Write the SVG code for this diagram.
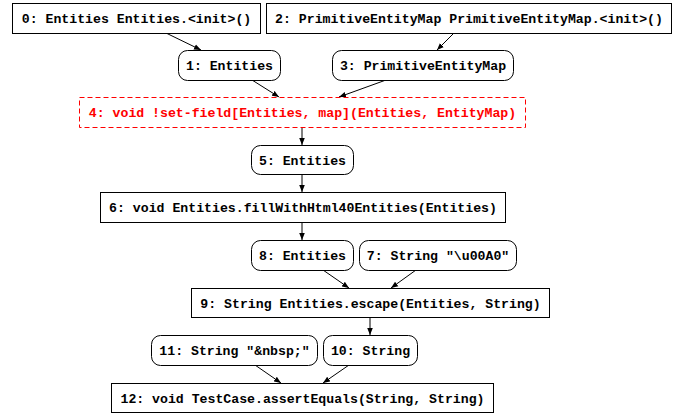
<svg xmlns="http://www.w3.org/2000/svg" width="683" height="417" viewBox="0 0 683 417">
<defs>
<marker id="ah" viewBox="0 0 10 10" refX="10" refY="5" markerWidth="7" markerHeight="7" markerUnits="userSpaceOnUse" orient="auto">
<path d="M0,1 L10,5 L0,9 z" fill="#000"/>
</marker>
</defs>
<style>
rect{fill:#fff;stroke:#000;stroke-width:1}
.red rect{stroke:#ff0000;stroke-dasharray:5,3}
text{font-family:"Liberation Mono","DejaVu Sans Mono",monospace;font-weight:bold;font-size:13.2px;text-anchor:middle;fill:#000}
.red text{fill:#ff0000}
#edges line{stroke:#000;stroke-width:1;marker-end:url(#ah)}
</style>
<rect x="0" y="0" width="683" height="417" style="fill:#fff;stroke:none"/>
<g id="edges">
<line x1="166" y1="33" x2="201" y2="50"/>
<line x1="454" y1="33" x2="437" y2="50"/>
<line x1="252" y1="80" x2="279" y2="97"/>
<line x1="386" y1="80" x2="339" y2="97"/>
<line x1="302" y1="127" x2="302" y2="145"/>
<line x1="302" y1="174" x2="302" y2="192"/>
<line x1="302" y1="222" x2="302" y2="240"/>
<line x1="323" y1="270" x2="349" y2="288"/>
<line x1="416" y1="270" x2="391" y2="288"/>
<line x1="370" y1="317" x2="370" y2="335"/>
<line x1="255" y1="365" x2="281" y2="383"/>
<line x1="349" y1="365" x2="323" y2="383"/>
</g>
<g id="n0"><rect x="12.5" y="3.5" width="248" height="30"/><text x="136.5" y="23">0: Entities Entities.&lt;init&gt;()</text></g>
<g id="n2"><rect x="266.5" y="3.5" width="405" height="30"/><text x="469" y="23">2: PrimitiveEntityMap PrimitiveEntityMap.&lt;init&gt;()</text></g>
<g id="n1"><rect x="178.5" y="50.5" width="102" height="30" rx="9"/><text x="229.5" y="70">1: Entities</text></g>
<g id="n3"><rect x="332.5" y="50.5" width="181" height="30" rx="9"/><text x="423" y="70">3: PrimitiveEntityMap</text></g>
<g id="n4" class="red"><rect x="79.5" y="97.5" width="446" height="30"/><text x="302.5" y="117">4: void !set-field[Entities, map](Entities, EntityMap)</text></g>
<g id="n5"><rect x="251.5" y="145.5" width="102" height="29" rx="9"/><text x="302.5" y="164.5">5: Entities</text></g>
<g id="n6"><rect x="100.5" y="192.5" width="405" height="30"/><text x="303" y="212">6: void Entities.fillWithHtml40Entities(Entities)</text></g>
<g id="n8"><rect x="251.5" y="240.5" width="102" height="30" rx="9"/><text x="302.5" y="260">8: Entities</text></g>
<g id="n7"><rect x="359.5" y="240.5" width="157" height="30" rx="9"/><text x="438" y="260">7: String "\u00A0"</text></g>
<g id="n9"><rect x="191.5" y="288.5" width="358" height="29"/><text x="370.5" y="307.5">9: String Entities.escape(Entities, String)</text></g>
<g id="n11"><rect x="151.5" y="335.5" width="166" height="30" rx="9"/><text x="234.5" y="355">11: String "&amp;nbsp;"</text></g>
<g id="n10"><rect x="323.5" y="335.5" width="94" height="30" rx="9"/><text x="370.5" y="355">10: String</text></g>
<g id="n12"><rect x="111.5" y="383.5" width="382" height="29"/><text x="302.5" y="402.5">12: void TestCase.assertEquals(String, String)</text></g>
</svg>
